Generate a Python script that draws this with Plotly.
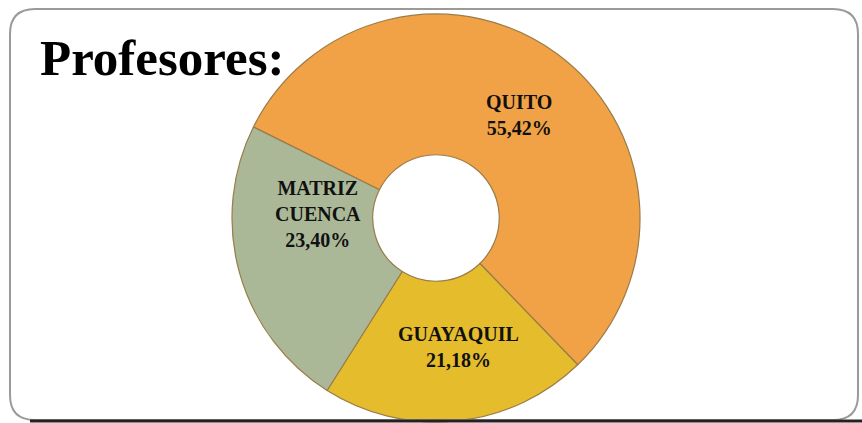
import plotly.graph_objects as go

W, H = 862, 423

# Data
categories = ["QUITO", "GUAYAQUIL", "MATRIZ<br>CUENCA"]
values = [55.42, 21.18, 23.40]
value_labels = ["55,42%", "21,18%", "23,40%"]
colors = ["#F1A246", "#E5BD2C", "#AAB898"]
title_text = "Profesores:"

def px(x):
    return x / W

def py(y):
    return 1 - y / H

fig = go.Figure()

cx, cy, r = 436, 218, 204
fig.add_trace(go.Pie(
    labels=categories,
    values=values,
    sort=False,
    direction="clockwise",
    rotation=-63.5,
    hole=0.31,
    marker=dict(colors=colors, line=dict(color="#9a7c4a", width=1.2)),
    textinfo="none",
    hoverinfo="label+percent",
    showlegend=False,
    domain=dict(x=[px(cx - r), px(cx + r)], y=[py(cy + r), py(cy - r)]),
))

# rounded frame
x0, x1, y0, y1 = px(10), px(858), py(420), py(9)
rx, ry = 25 / W, 25 / H
path = (f"M {x0+rx},{y1} L {x1-rx},{y1} Q {x1},{y1} {x1},{y1-ry} "
        f"L {x1},{y0+ry} Q {x1},{y0} {x1-rx},{y0} L {x0+rx},{y0} "
        f"Q {x0},{y0} {x0},{y0+ry} L {x0},{y1-ry} Q {x0},{y1} {x0+rx},{y1} Z")

shapes = [
    dict(type="path", xref="paper", yref="paper", path=path,
         line=dict(color="#9a9a9a", width=2), fillcolor="rgba(0,0,0,0)", layer="above"),
    dict(type="line", xref="paper", yref="paper", x0=px(30), x1=px(862), y0=py(421), y1=py(421),
         line=dict(color="#222222", width=3), layer="above"),
]

# label positions (pixels)
label_pos = [(519, 115), (458, 347), (318, 214)]
annotations = []
for cat, vl, (lx, ly) in zip(categories, value_labels, label_pos):
    annotations.append(dict(
        x=px(lx), y=py(ly), xref="paper", yref="paper",
        text=f"<b>{cat}<br>{vl}</b>", showarrow=False,
        font=dict(family="Liberation Serif, Times New Roman, serif", size=20, color="#111111"),
        align="center", xanchor="center", yanchor="middle",
    ))

annotations.append(dict(
    x=px(38), y=py(58), xref="paper", yref="paper",
    text=f"<b>{title_text}</b>", showarrow=False,
    font=dict(family="Liberation Serif, Times New Roman, serif", size=51, color="#000000"),
    xanchor="left", yanchor="middle",
))

fig.update_layout(
    width=W, height=H,
    margin=dict(l=0, r=0, t=0, b=0),
    paper_bgcolor="#ffffff",
    plot_bgcolor="#ffffff",
    shapes=shapes,
    annotations=annotations,
)

fig.write_html("out.html", config={"displayModeBar": False},
               post_script="document.body.style.margin='0';document.body.style.overflow='hidden';")
